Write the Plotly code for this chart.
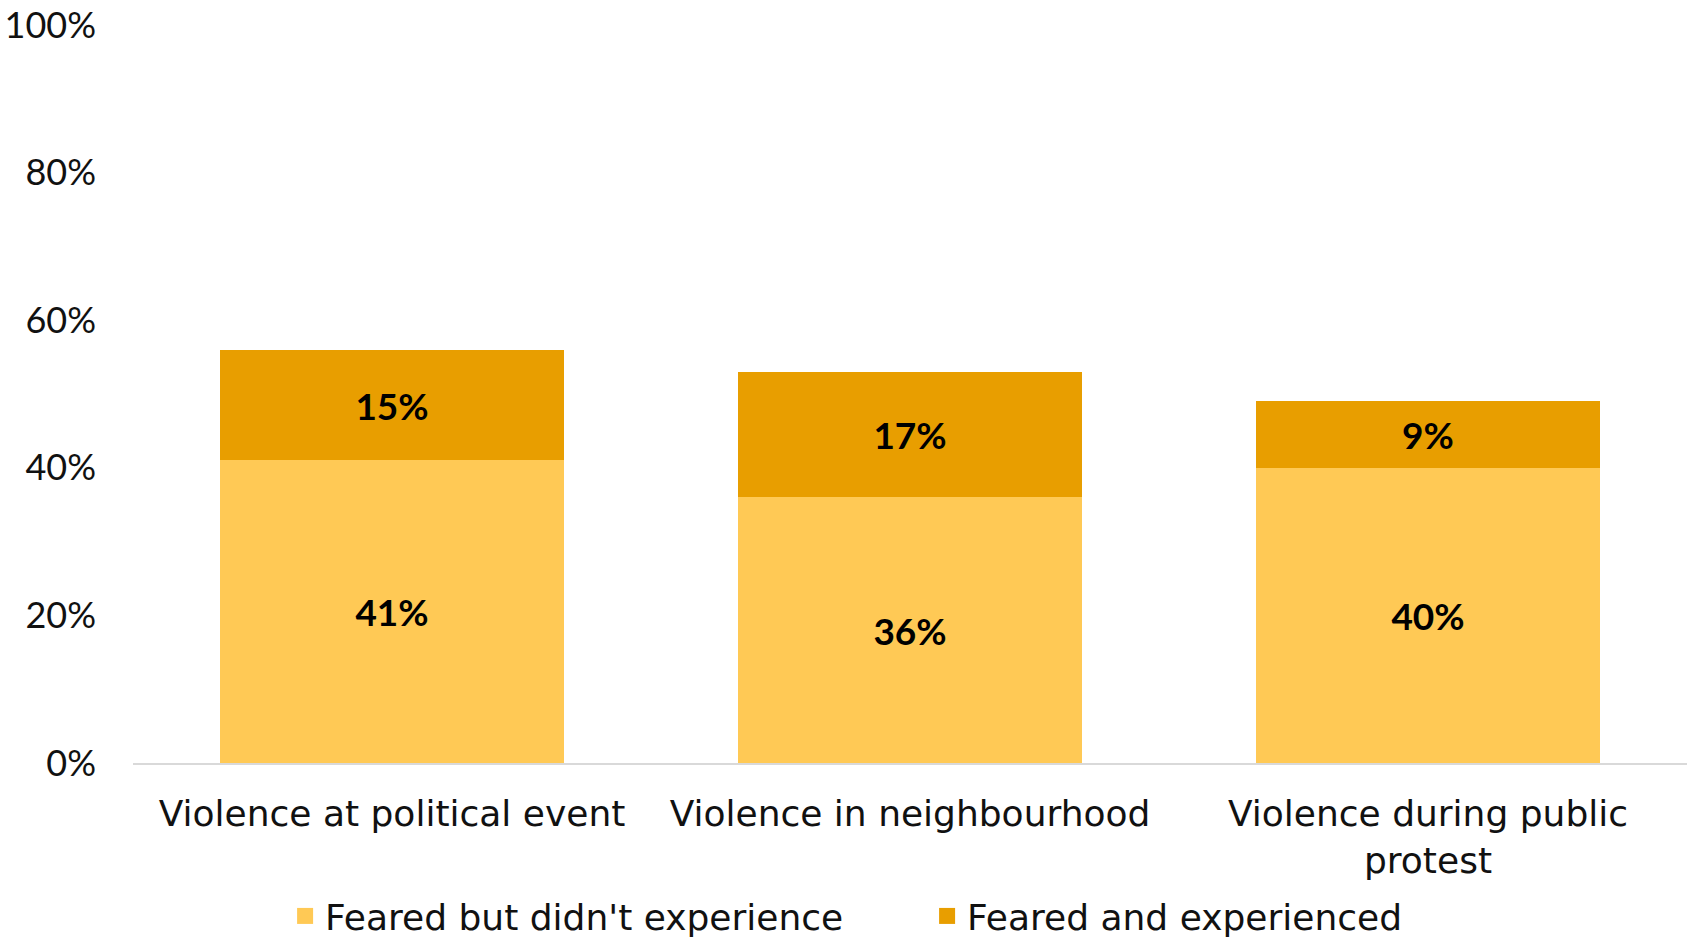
import plotly.graph_objects as go

categories = ["Violence at political event", "Violence in neighbourhood", "Violence during public<br>protest"]
feared_not_experienced = [41, 36, 40]
feared_and_experienced = [15, 17, 9]
series_names = ["Feared but didn't experience", "Feared and experienced"]
y_ticks = [0, 20, 40, 60, 80, 100]
y_tick_labels = [f"{v}%" for v in y_ticks]

FONT = "Lato"
WIDE_FONT = "DejaVu Sans"
LIGHT = "#FFC955"
DARK = "#E89E00"

fig = go.Figure()
for name, vals, color in [
    (series_names[0], feared_not_experienced, LIGHT),
    (series_names[1], feared_and_experienced, DARK),
]:
    fig.add_trace(go.Bar(
        x=categories,
        y=vals,
        name=name,
        legendgroup=name,
        showlegend=False,
        marker=dict(color=color, line=dict(width=0)),
        text=[f"{v}%" for v in vals],
        textposition="inside",
        insidetextanchor="middle",
        constraintext="none",
        textangle=0,
        textfont=dict(family=FONT, size=37, color="#000000", weight="bold"),
    ))

# Larger square swatches for the legend entries
for name, color in [(series_names[0], LIGHT), (series_names[1], DARK)]:
    fig.add_trace(go.Scatter(
        x=[None], y=[None],
        mode="markers",
        name=name,
        legendgroup=name,
        marker=dict(symbol="square", size=18, color=color),
        hoverinfo="skip",
    ))

fig.update_layout(
    barmode="stack",
    bargap=0.334,
    width=1703,
    height=943,
    margin=dict(l=133, r=16, t=25, b=180, autoexpand=False),
    paper_bgcolor="white",
    plot_bgcolor="white",
    font=dict(family=FONT, size=36, color="#111111"),
    showlegend=True,
    legend=dict(
        orientation="h",
        x=0.511,
        xanchor="center",
        y=-0.248,
        yanchor="bottom",
        font=dict(family=WIDE_FONT, size=36, color="#111111"),
        traceorder="normal",
        itemwidth=30,
        entrywidth=597,
    ),
    xaxis=dict(
        automargin=False,
        showline=True,
        linecolor="#D9D9D9",
        linewidth=2,
        ticks="",
        showgrid=False,
        ticklabelstandoff=18,
        tickfont=dict(family=WIDE_FONT, size=36, color="#111111"),
    ),
    yaxis=dict(
        automargin=False,
        range=[0, 100],
        tickvals=y_ticks,
        ticktext=y_tick_labels,
        showgrid=False,
        zeroline=False,
        showline=False,
        ticks="",
        ticklabelstandoff=36,
        tickfont=dict(family=FONT, size=36, color="#111111"),
    ),
)

fig.write_html("out.html")
